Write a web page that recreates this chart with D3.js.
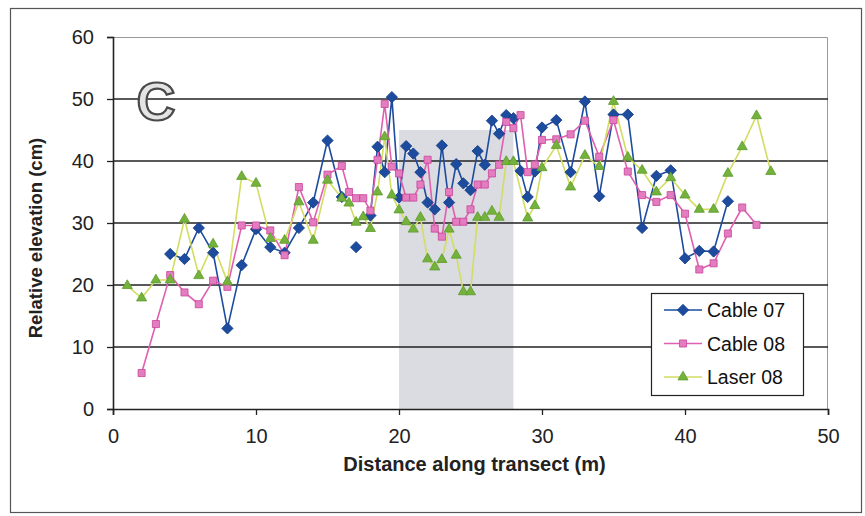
<!DOCTYPE html>
<html>
<head>
<meta charset="utf-8">
<script src="https://cdn.jsdelivr.net/npm/d3@7"></script>
<style>
  body { margin: 0; background: #fff; }
  text { font-family: "Liberation Sans", Arial, sans-serif; }
</style>
</head>
<body>
<div id="chart"></div>
<script>
// data: [distance (m), elevation (cm)], null = gap
var cable07 = [
  [4, 25.0], [5, 24.2], [6, 29.2], [7, 25.2], [8, 13.0], [9, 23.2], [10, 29.0],
  [11, 26.1], [12, 25.2], [13, 29.2], [14, 33.3], [15, 43.3], [16, 34.2],
  [16.5, null], [17, 26.1], [17.5, null],
  [18, 31.2], [18.5, 42.3], [19, 38.2], [19.5, 50.3], [20, 34.1], [20.5, 42.4],
  [21, 41.2], [21.5, 38.2], [22, 33.3], [22.5, 32.2], [23, 42.5], [23.5, 33.3],
  [24, 39.5], [24.5, 36.4], [25, 35.3], [25.5, 41.6], [26, 39.4], [26.5, 46.5],
  [27, 44.4], [27.5, 47.4], [28, 46.9], [28.5, 38.4], [29, 34.2], [29.5, 38.3],
  [30, 45.4], [31, 46.6], [32, 38.2], [33, 49.6], [34, 34.3], [35, 47.5],
  [36, 47.5], [37, 29.2], [38, 37.6], [39, 38.5], [40, 24.3], [41, 25.5],
  [42, 25.4], [43, 33.5]
];
var cable08 = [
  [2, 5.8], [3, 13.7], [4, 21.6], [5, 18.8], [6, 16.9], [7, 20.7], [8, 19.7],
  [9, 29.6], [10, 29.6], [11, 28.8], [12, 24.8], [13, 35.8], [14, 30.1],
  [15, 37.8], [16, 39.2], [16.5, 35.0], [17, 34.0], [17.5, 34.0], [18, 32.0],
  [18.5, 40.2], [19, 49.2], [19.5, 39.1], [20, 38.0], [20.5, 34.1], [21, 34.1],
  [21.5, 36.2], [22, 40.2], [22.5, 29.1], [23, 27.8], [23.5, 35.0], [24, 30.2],
  [24.5, 30.2], [25, 32.2], [25.5, 36.2], [26, 36.2], [26.5, 38.0], [27, 39.4],
  [27.5, 46.3], [28, 45.3], [28.5, 47.4], [29, 38.2], [29.5, 39.4], [30, 43.4],
  [31, 43.5], [32, 44.3], [33, 46.5], [34, 40.7], [35, 46.6], [36, 38.3],
  [37, 34.5], [38, 33.4], [39, 34.5], [40, 31.5], [41, 22.5], [42, 23.5],
  [43, 28.3], [44, 32.5], [45, 29.7]
];
var laser08 = [
  [1, 19.9], [2, 17.9], [3, 20.8], [4, 20.8], [5, 30.6], [6, 21.5], [7, 26.6],
  [8, 20.5], [9, 37.5], [10, 36.4], [11, 27.5], [12, 27.2], [13, 33.4],
  [14, 27.2], [15, 36.9], [16, 34.0], [16.5, 33.2], [17, 30.1], [17.5, 31.0],
  [18, 29.1], [18.5, 35.0], [19, 43.9], [19.5, 34.5], [20, 32.1], [20.5, 30.2],
  [21, 29.0], [21.5, 30.9], [22, 24.2], [22.5, 22.9], [23, 24.1], [23.5, 29.0],
  [24, 24.8], [24.5, 18.9], [25, 18.9], [25.5, 30.9], [26, 30.9], [26.5, 31.9],
  [27, 30.9], [27.5, 39.9], [28, 39.9], [29, 30.8], [29.5, 32.8], [30, 38.9],
  [31, 42.5], [32, 35.8], [33, 40.9], [34, 39.1], [35, 49.6], [36, 40.6],
  [37, 38.5], [38, 35.0], [39, 37.3], [40, 34.5], [41, 32.2], [42, 32.2],
  [43, 38.0], [44, 42.3], [45, 47.3], [46, 38.3]
];
var seriesNames = ["Cable 07", "Cable 08", "Laser 08"];
var shadedSpan = [20, 28];   // grey band along the transect
var shadedTop = 45;
var xTicks = [0, 10, 20, 30, 40, 50];
var yTicks = [0, 10, 20, 30, 40, 50, 60];

var svgWidth = 865;
var svgHeight = 516;
var margin = { top: 37, right: 37, bottom: 107, left: 113 };
var width = svgWidth - margin.left - margin.right;
var height = svgHeight - margin.top - margin.bottom;

var svg = d3.select("#chart")
    .append("svg")
    .attr("width", svgWidth)
    .attr("height", svgHeight);

// outer frame of the scanned figure
svg.append("rect")
    .attr("x", 10.5).attr("y", 8.5)
    .attr("width", 851).attr("height", 504)
    .attr("fill", "none")
    .attr("stroke", "#555")
    .attr("stroke-width", 1.2);

var chartGroup = svg.append("g")
    .attr("transform", `translate(${margin.left}, ${margin.top})`);

var x = d3.scaleLinear().domain([0, 50]).range([0, width]);
var y = d3.scaleLinear().domain([0, 60]).range([height, 0]);

// shaded band
chartGroup.append("rect")
    .attr("x", x(shadedSpan[0]))
    .attr("y", y(shadedTop))
    .attr("width", x(shadedSpan[1]) - x(shadedSpan[0]))
    .attr("height", y(0) - y(shadedTop))
    .attr("fill", "#dadce1");

// plot border (top / right)
chartGroup.append("path")
    .attr("d", `M0,0.5H${width - 0.5}V${height}`)
    .attr("fill", "none")
    .attr("stroke", "#999")
    .attr("stroke-width", 1);

// gridlines
chartGroup.selectAll(".grid")
    .data(yTicks.filter(d => d > 0 && d < 60))
    .enter()
    .append("line")
    .attr("x1", 0).attr("x2", width)
    .attr("y1", d => y(d)).attr("y2", d => y(d))
    .attr("stroke", "#222")
    .attr("stroke-width", 1.6);

// axes
var bottomAxis = d3.axisBottom(x).tickValues(xTicks).tickSize(6).tickPadding(14);
var leftAxis = d3.axisLeft(y).tickValues(yTicks).tickSize(6).tickPadding(13);

var xAxisG = chartGroup.append("g")
    .attr("transform", `translate(0, ${height})`)
    .call(bottomAxis);
var yAxisG = chartGroup.append("g")
    .call(leftAxis);

[xAxisG, yAxisG].forEach(function(g) {
    g.select(".domain").attr("stroke", "#222").attr("stroke-width", 1.6);
    g.selectAll(".tick line").attr("stroke", "#222").attr("stroke-width", 1.3);
    g.selectAll(".tick text")
        .attr("fill", "#222")
        .style("font-size", "20px")
        .style("font-family", "'Liberation Sans', Arial, sans-serif");
});

// series
var diamond = { draw: function(ctx, size) {
    var r = Math.sqrt(size / 2);
    ctx.moveTo(0, -r); ctx.lineTo(r, 0); ctx.lineTo(0, r); ctx.lineTo(-r, 0); ctx.closePath();
} };
var styles = [
    { line: "#1d4c9e", fill: "#1d4c9e", stroke: "#0f3a86", shape: diamond, size: 64 },
    { line: "#e05fb0", fill: "#e47cc0", stroke: "#c8459a", shape: d3.symbolSquare, size: 50 },
    { line: "#d2dd62", fill: "#74b23c", stroke: "#5a9a2c", shape: d3.symbolTriangle, size: 44 }
];
var allSeries = [cable07, cable08, laser08];

var line = d3.line()
    .defined(d => d[1] !== null)
    .x(d => x(d[0]))
    .y(d => y(d[1]));

allSeries.forEach(function(data, i) {
    var st = styles[i];
    chartGroup.append("path")
        .datum(data)
        .attr("d", line)
        .attr("fill", "none")
        .attr("stroke", st.line)
        .attr("stroke-width", 1.6);
});

allSeries.forEach(function(data, i) {
    var st = styles[i];
    chartGroup.selectAll(".pt" + i)
        .data(data.filter(d => d[1] !== null))
        .enter()
        .append("path")
        .attr("transform", d => `translate(${x(d[0])}, ${y(d[1])})`)
        .attr("d", d3.symbol().type(st.shape).size(st.size))
        .attr("fill", st.fill)
        .attr("stroke", st.stroke)
        .attr("stroke-width", 0.8);
});

// "C" panel letter
chartGroup.append("text")
    .attr("x", 43)
    .attr("y", 83)
    .attr("text-anchor", "middle")
    .style("font-size", "54px")
    .style("font-weight", "bold")
    .attr("fill", "#e4e4e4")
    .attr("stroke", "#4a4a4a")
    .attr("stroke-width", 2.2)
    .text("C");

// legend
var legend = svg.append("g").attr("transform", "translate(651, 293)");
legend.append("rect")
    .attr("x", 0.5).attr("y", 0.5)
    .attr("width", 152).attr("height", 102)
    .attr("fill", "#fff")
    .attr("stroke", "#222")
    .attr("stroke-width", 1.2);

seriesNames.forEach(function(name, i) {
    var st = styles[i];
    var ly = 17 + i * 33.5;
    legend.append("line")
        .attr("x1", 13).attr("x2", 51)
        .attr("y1", ly).attr("y2", ly)
        .attr("stroke", st.line)
        .attr("stroke-width", 1.6);
    legend.append("path")
        .attr("transform", `translate(32, ${ly})`)
        .attr("d", d3.symbol().type(st.shape).size(st.size))
        .attr("fill", st.fill)
        .attr("stroke", st.stroke)
        .attr("stroke-width", 0.8);
    legend.append("text")
        .attr("x", 56)
        .attr("y", ly + 7)
        .style("font-size", "19.5px")
        .attr("fill", "#111")
        .text(name);
});

// axis titles
chartGroup.append("text")
    .attr("transform", `translate(${-71}, ${height / 2 + 15}) rotate(-90)`)
    .attr("text-anchor", "middle")
    .style("font-size", "18.5px")
    .style("font-weight", "bold")
    .attr("fill", "#222")
    .text("Relative elevation (cm)");

chartGroup.append("text")
    .attr("x", x(25) + 4)
    .attr("y", height + 62)
    .attr("text-anchor", "middle")
    .style("font-size", "20px")
    .style("font-weight", "bold")
    .attr("fill", "#222")
    .text("Distance along transect (m)");
</script>
</body>
</html>
